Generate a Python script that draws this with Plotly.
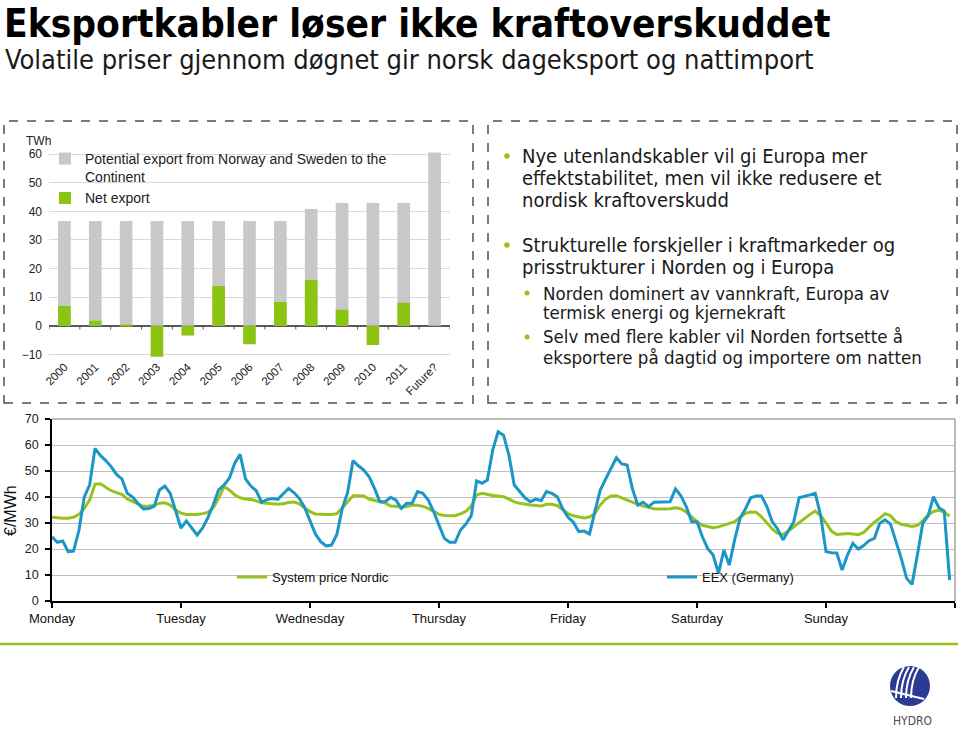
import plotly.graph_objects as go

W, H = 960, 733
def px(x): return x / W
def py(y): return 1 - y / H

# ---------------- data ----------------
years = ["2000", "2001", "2002", "2003", "2004", "2005", "2006", "2007",
         "2008", "2009", "2010", "2011", "Future?"]
potential_export = [36.6, 36.6, 36.6, 36.6, 36.6, 36.6, 36.6, 36.6,
                    40.8, 42.9, 42.9, 42.9, 60.6]
net_export = [6.9, 1.7, 0.3, -10.8, -3.4, 13.9, -6.5, 8.3,
              16.0, 5.6, -6.7, 8.0, None]

day_labels = ["Monday", "Tuesday", "Wednesday", "Thursday", "Friday", "Saturday", "Sunday"]
hours = list(range(168))

system_price_nordic = [
    32.2, 31.9, 31.8, 31.8, 32.2, 33.3, 35.6, 38.8, 44.9, 45.1, 43.6, 42.4, 41.7, 41.0, 39.2, 38.2, 37.2, 36.4, 36.5, 36.7, 37.6, 37.8, 36.9, 35.0,
    33.8, 33.3, 33.3, 33.3, 33.6, 34.1, 35.9, 39.5, 44.0, 42.7, 40.8, 39.7, 39.2, 39.0, 38.5, 37.8, 37.6, 37.3, 37.2, 37.4, 37.9, 38.1, 37.4, 35.8,
    34.4, 33.5, 33.3, 33.3, 33.3, 33.6, 35.8, 38.3, 40.5, 40.5, 40.4, 39.2, 38.6, 38.2, 37.7, 36.5, 36.4, 36.0, 36.3, 36.8, 36.8, 36.4, 35.6, 34.4,
    33.3, 32.9, 32.8, 32.8, 33.5, 34.5, 36.5, 40.8, 41.4, 40.9, 40.6, 40.4, 40.1, 39.2, 38.1, 37.6, 37.2, 36.9, 36.7, 36.5, 37.2, 37.2, 36.7, 35.3,
    33.6, 32.8, 32.4, 31.9, 32.3, 33.7, 36.9, 39.2, 40.4, 40.5, 39.7, 38.8, 38.2, 37.2, 36.5, 35.9, 35.5, 35.4, 35.4, 35.5, 35.9, 35.5, 34.2, 32.4,
    30.5, 29.1, 28.5, 28.2, 28.5, 29.2, 29.7, 30.5, 32.1, 33.7, 34.2, 34.1, 32.4, 29.9, 27.7, 26.0, 25.6, 26.9, 28.5, 29.9, 31.8, 33.3, 34.6, 32.8,
    30.1, 26.9, 25.6, 25.9, 26.0, 25.8, 25.5, 26.4, 28.5, 30.3, 31.8, 33.6, 32.8, 30.5, 29.5, 29.2, 28.7, 29.1, 30.8, 33.1, 34.4, 35.0, 34.1, 32.7,
]
eex_germany = [
    24.7, 22.6, 23.1, 19.0, 19.2, 27.0, 40.0, 44.6, 58.7, 56.0, 54.0, 51.7, 48.7, 47.0, 41.4, 40.0, 37.5, 35.4, 35.6, 36.4, 42.7, 44.2, 41.4, 35.0,
    28.0, 30.8, 28.0, 25.4, 28.0, 32.0, 37.0, 42.7, 44.6, 47.2, 53.0, 56.4, 47.0, 44.2, 42.4, 38.0, 39.0, 39.4, 39.1, 41.4, 43.3, 41.7, 39.5, 36.0,
    30.9, 25.8, 22.8, 21.2, 21.5, 25.6, 35.6, 41.7, 54.0, 52.0, 50.4, 47.8, 43.3, 38.2, 38.2, 39.9, 38.8, 35.6, 37.6, 37.6, 42.1, 41.4, 38.8, 34.4,
    29.2, 24.1, 22.6, 22.6, 27.3, 29.6, 32.8, 46.2, 45.3, 46.5, 58.1, 65.1, 63.8, 56.2, 44.6, 42.3, 39.7, 38.2, 39.2, 38.6, 42.1, 41.4, 40.1, 35.6,
    32.2, 30.3, 26.7, 26.9, 25.8, 34.4, 42.7, 46.9, 51.3, 55.1, 52.7, 52.3, 43.0, 36.9, 38.0, 36.3, 38.0, 38.0, 38.0, 38.2, 43.1, 40.5, 36.3, 30.5,
    30.5, 24.7, 20.1, 17.7, 10.6, 19.6, 13.8, 23.5, 31.8, 35.4, 39.7, 40.4, 40.4, 36.3, 30.5, 27.7, 23.5, 26.9, 30.5, 39.7, 40.4, 40.8, 41.4, 33.0,
    19.0, 18.6, 18.5, 11.9, 17.7, 22.2, 20.0, 21.3, 23.2, 24.1, 29.9, 31.2, 29.6, 23.1, 16.4, 8.7, 6.4, 17.7, 29.9, 32.8, 40.1, 35.9, 34.6, 8.0,
]
price_ticks = [0, 10, 20, 30, 40, 50, 60, 70]
twh_ticks = [-10, 0, 10, 20, 30, 40, 50, 60]

# ---------------- style ----------------
GREEN_BAR = "#8CC414"
GREEN_LINE = "#96C21E"
GREY_BAR = "#C8C8C8"
BLUE_LINE = "#1B96C6"
CHART_FONT = "Liberation Sans, Arial, sans-serif"
SLIDE_FONT = "DejaVu Sans Condensed, DejaVu Sans, Verdana, sans-serif"

fig = go.Figure()

fig.add_trace(go.Bar(x=years, y=potential_export, name="Potential export from Norway and Sweden to the<br>Continent",
                     marker=dict(color=GREY_BAR, line=dict(width=0)), xaxis="x", yaxis="y", legend="legend"))
fig.add_trace(go.Bar(x=years, y=net_export, name="Net export",
                     marker=dict(color=GREEN_BAR, line=dict(width=0)), xaxis="x", yaxis="y", legend="legend"))

fig.add_trace(go.Scatter(x=hours, y=system_price_nordic, mode="lines", name="System price Nordic",
                         line=dict(color=GREEN_LINE, width=3), xaxis="x2", yaxis="y2", legend="legend2"))
fig.add_trace(go.Scatter(x=hours, y=eex_germany, mode="lines", name="EEX (Germany)",
                         line=dict(color=BLUE_LINE, width=3), xaxis="x2", yaxis="y2", legend="legend3"))

shapes = []
annotations = []

# bar chart: white area behind legend hiding the gridlines
shapes.append(dict(type="rect", xref="x domain", yref="y", x0=0.0, x1=(413 - 49) / 401, y0=45, y1=63,
                   fillcolor="white", line=dict(width=0), layer="below"))
# category boundary ticks on the zero line
for i in range(len(years) + 1):
    shapes.append(dict(type="line", xref="x", yref="y", x0=i - 0.5, x1=i - 0.5, y0=0, y1=-1.3,
                       line=dict(color="#595959", width=1)))

# line chart: hide part of the 10 gridline behind legend, frame top/right
shapes.append(dict(type="rect", xref="x2 domain", yref="y2", x0=(103 - 52) / 903, x1=(930 - 52) / 903,
                   y0=8, y1=12, fillcolor="white", line=dict(width=0), layer="below"))
shapes.append(dict(type="line", xref="x2 domain", yref="y2 domain", x0=0, x1=1, y0=1, y1=1,
                   line=dict(color="#a6a6a6", width=1.5)))
shapes.append(dict(type="line", xref="x2 domain", yref="y2 domain", x0=1, x1=1, y0=0, y1=1,
                   line=dict(color="#a6a6a6", width=1.5)))

# dashed panels
for x0, x1 in [(4, 473), (488, 957)]:
    shapes.append(dict(type="rect", xref="paper", yref="paper", x0=px(x0), x1=px(x1), y0=py(403), y1=py(121),
                       line=dict(color="#505050", width=1.5, dash="dash"), fillcolor="rgba(0,0,0,0)"))

# green separator line
shapes.append(dict(type="line", xref="paper", yref="paper", x0=px(0), x1=px(958), y0=py(644), y1=py(644),
                   line=dict(color=GREEN_LINE, width=2.5)))

# bullets
for bx, by, r in [(507, 156, 2.8), (507, 245, 2.8), (527, 293, 2.5), (527, 337, 2.5)]:
    shapes.append(dict(type="circle", xref="paper", yref="paper", x0=px(bx - r), x1=px(bx + r),
                       y0=py(by + r), y1=py(by - r), fillcolor=GREEN_LINE, line=dict(width=0)))

# Hydro logo
cx, cy, rr = 910, 686, 20
shapes.append(dict(type="circle", xref="paper", yref="paper", x0=px(cx - rr), x1=px(cx + rr),
                   y0=py(cy + rr), y1=py(cy - rr), fillcolor="#2B3A93", line=dict(width=0)))
def P(x, y):
    return f"{px(x):.5f},{py(y):.5f}"
for ox in [-8, -3, 2, 7]:
    path = f"M {P(cx + ox - 6, cy + 12)} Q {P(cx + ox - 6, cy - 6)} {P(cx + ox + 2, cy - 19)}"
    shapes.append(dict(type="path", xref="paper", yref="paper", path=path,
                       line=dict(color="white", width=2)))
shapes.append(dict(type="line", xref="paper", yref="paper", x0=px(cx - 19), x1=px(cx + 14), y0=py(cy + 5), y1=py(cy + 13),
                   line=dict(color="white", width=2)))
annotations.append(dict(text="HYDRO", x=px(912), y=py(721), xref="paper", yref="paper", showarrow=False,
                        font=dict(family="DejaVu Sans Condensed, DejaVu Sans", size=12, color="#4d4d4d"),
                        xanchor="center", yanchor="middle"))

# titles
annotations.append(dict(text="<b>Eksportkabler løser ikke kraftoverskuddet</b>", x=px(3), y=py(0),
                        xref="paper", yref="paper", showarrow=False, xanchor="left", yanchor="top",
                        borderpad=0, font=dict(family=SLIDE_FONT, size=38.5, color="black")))
annotations.append(dict(text="Volatile priser gjennom døgnet gir norsk dageksport og nattimport", x=px(3), y=py(60),
                        xref="paper", yref="paper", showarrow=False, xanchor="left", yanchor="middle",
                        font=dict(family=SLIDE_FONT, size=27, color="#1a1a1a")))

# right panel text
lines = [
    (520, 156, "Nye utenlandskabler vil gi Europa mer", 20),
    (520, 178, "effektstabilitet, men vil ikke redusere et", 20),
    (520, 200, "nordisk kraftoverskudd", 20),
    (520, 245, "Strukturelle forskjeller i kraftmarkeder og", 20),
    (520, 267, "prisstrukturer i Norden og i Europa", 20),
    (541, 293, "Norden dominert av vannkraft, Europa av", 18.5),
    (541, 313, "termisk energi og kjernekraft", 18.5),
    (541, 337, "Selv med flere kabler vil Norden fortsette å", 18.5),
    (541, 357, "eksportere på dagtid og importere om natten", 18.5),
]
for x, y, t, s in lines:
    annotations.append(dict(text=t, x=px(x), y=py(y), xref="paper", yref="paper", showarrow=False,
                            xanchor="left", yanchor="middle", font=dict(family=SLIDE_FONT, size=s, color="#1a1a1a")))

# axis unit labels
annotations.append(dict(text="TWh", x=px(38), y=py(141), xref="paper", yref="paper", showarrow=False,
                        xanchor="center", yanchor="middle", font=dict(family=CHART_FONT, size=12, color="#222")))
annotations.append(dict(text="€/MWh", x=px(10), y=py(511), xref="paper", yref="paper", showarrow=False,
                        textangle=-90, xanchor="center", yanchor="middle",
                        font=dict(family=CHART_FONT, size=16, color="#111")))

fig.update_layout(
    width=W, height=H, margin=dict(l=0, r=0, t=0, b=0, pad=0, autoexpand=False),
    paper_bgcolor="white", plot_bgcolor="white",
    barmode="overlay", bargap=0.59,
    font=dict(family=CHART_FONT, size=12, color="#222"),
    xaxis=dict(domain=[px(49), px(450)], anchor="y", type="category", tickangle=-45, automargin=False,
               showline=False, ticks="", showgrid=False, tickfont=dict(size=11.5, color="#222"),
               range=[-0.5, len(years) - 0.5]),
    yaxis=dict(domain=[py(357.2), py(148.4)], anchor="x", range=[-11, 62], tickvals=twh_ticks, automargin=False,
               showgrid=True, gridcolor="#d9d9d9", gridwidth=1, zeroline=True, zerolinecolor="#595959",
               zerolinewidth=1.5, showline=False, ticks="", ticklabelstandoff=6,
               tickfont=dict(size=12, color="#222")),
    xaxis2=dict(domain=[px(52), px(955)], anchor="y2", range=[0, 168], automargin=False,
                tickvals=[0, 24, 48, 72, 96, 120, 144, 168], ticktext=day_labels + [""],
                showline=True, linecolor="black", linewidth=1.5, ticks="outside", ticklen=5,
                tickcolor="black", tickwidth=1.5, showgrid=False, zeroline=False,
                tickfont=dict(size=13, color="#111")),
    yaxis2=dict(domain=[py(601), py(419)], anchor="x2", range=[0, 70], tickvals=price_ticks, automargin=False,
                showline=True, linecolor="black", linewidth=1.5, ticks="outside", ticklen=5,
                tickcolor="black", tickwidth=1.5, showgrid=True, gridcolor="#bfbfbf", gridwidth=1.3,
                zeroline=False, ticklabelstandoff=4, tickfont=dict(size=12.5, color="#222")),
    legend=dict(x=px(45), y=py(143), xanchor="left", yanchor="top", bgcolor="rgba(0,0,0,0)",
                font=dict(family=CHART_FONT, size=14, color="#222"), valign="top",
                tracegroupgap=4, itemclick=False),
    legend2=dict(x=px(232), y=py(577), xanchor="left", yanchor="middle", orientation="h",
                 bgcolor="rgba(0,0,0,0)", font=dict(family=CHART_FONT, size=13, color="#111")),
    legend3=dict(x=px(662), y=py(577), xanchor="left", yanchor="middle", orientation="h",
                 bgcolor="rgba(0,0,0,0)", font=dict(family=CHART_FONT, size=13, color="#111")),
    shapes=shapes, annotations=annotations,
)

fig.write_html("out.html", config={"displayModeBar": False},
               post_script="document.body.style.margin='0';document.body.style.overflow='hidden';")
